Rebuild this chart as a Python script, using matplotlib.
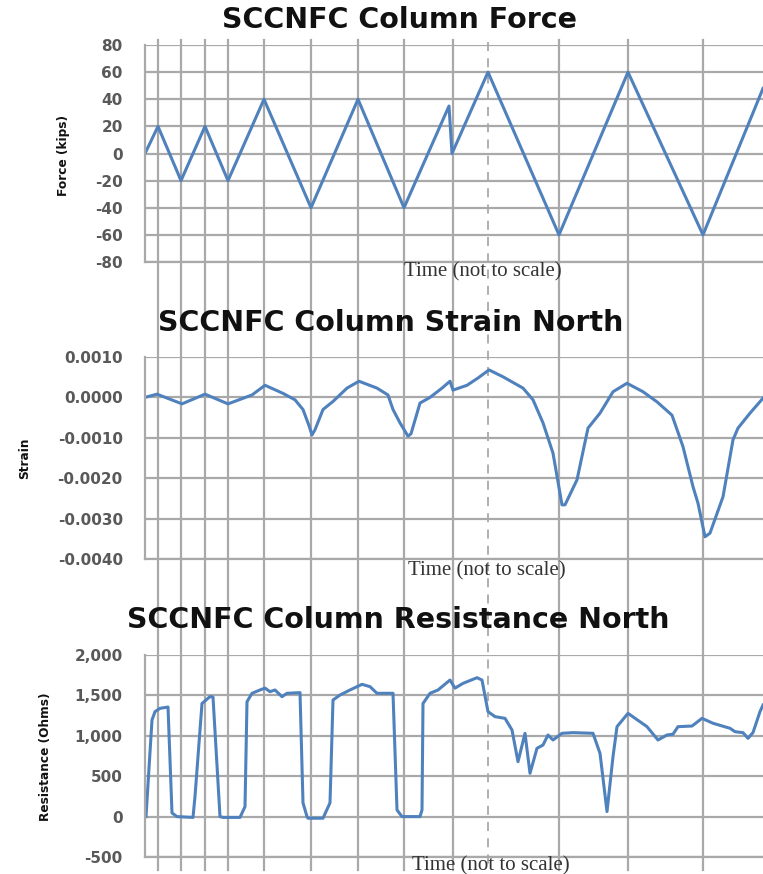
import numpy as np
import matplotlib.pyplot as plt
import matplotlib.transforms as mtransforms
from matplotlib.lines import Line2D
from matplotlib.ticker import FuncFormatter


# ══════════════════════════════════════════════
# DATA  (time axis is in arbitrary units, not to scale)
# ══════════════════════════════════════════════

T_END = 618

force_t = [0, 13, 36, 60, 83, 119, 166, 213, 259, 304, 307, 343, 414, 483, 558, 618]
force_v = [0, 20, -20, 20, -20, 40, -40, 40, -40, 35, 0, 60, -60, 60, -60, 48]

strain_t = [0, 12, 37, 60, 83, 107, 120, 138, 150, 158, 164, 167, 170, 178, 188,
            202, 214, 232, 243, 248, 255, 263, 266, 275, 285, 297, 305, 308, 322,
            333, 344, 358, 378, 388, 398, 408, 417, 420, 432, 443, 455, 468, 482,
            498, 512, 527, 538, 548, 553, 560, 565, 578, 588, 593, 605, 618]
strain_v = [0.0, 0.00008, -0.00016, 0.00008, -0.00016, 0.00006, 0.0003, 0.0001,
            -0.00006, -0.0003, -0.0007, -0.00093, -0.0008, -0.0003, -0.0001,
            0.00023, 0.0004, 0.00023, 0.00006, -0.0003, -0.00063, -0.00096,
            -0.0009, -0.00014, 0.0, 0.00023, 0.0004, 0.00018, 0.0003, 0.00048,
            0.00068, 0.00051, 0.00023, -0.00006, -0.00063, -0.00138, -0.00266,
            -0.00266, -0.00204, -0.00076, -0.00039, 0.00014, 0.00035, 0.00014,
            -0.00011, -0.00044, -0.00122, -0.00221, -0.00262, -0.00345, -0.00336,
            -0.00246, -0.00105, -0.00076, -0.00039, -0.00002]

resist_t = [1, 7, 10, 15, 23, 27, 32, 48, 50, 55, 57, 65, 68, 75, 78, 95, 100,
            102, 107, 115, 120, 125, 130, 137, 142, 155, 158, 162, 163, 178, 185,
            188, 195, 205, 217, 225, 232, 248, 252, 257, 275, 277, 278, 285, 293,
            305, 310, 318, 332, 337, 343, 350, 360, 367, 373, 380, 385, 392, 398,
            403, 408, 417, 428, 448, 455, 462, 468, 472, 483, 502, 513, 522, 528,
            533, 547, 557, 568, 585, 590, 598, 603, 608, 615, 618]
resist_v = [0, 1196, 1299, 1340, 1356, 45, 0, -10, 250, 1072, 1400, 1485, 1480,
            0, -10, -10, 123, 1422, 1526, 1567, 1590, 1546, 1567, 1484, 1526,
            1534, 170, 0, -20, -20, 170, 1443, 1505, 1567, 1637, 1608, 1526, 1526,
            82, 0, 0, 82, 1400, 1526, 1567, 1690, 1590, 1649, 1719, 1690, 1299,
            1237, 1216, 1072, 680, 1031, 536, 845, 886, 1010, 948, 1031, 1039,
            1031, 783, 62, 741, 1113, 1278, 1113, 948, 1010, 1020, 1113, 1121,
            1216, 1155, 1093, 1051, 1039, 969, 1040, 1299, 1381]

# load reversal points marked across all three panels
event_times = [13, 36, 60, 83, 119, 166, 213, 259, 308, 414, 483, 558]
dashed_time = 343


# ══════════════════════════════════════════════
# STYLE
# ══════════════════════════════════════════════

W, H = 763, 874
BLUE = '#4f81bd'
GRID = '#a9a9a9'
TICK = '#595959'

plt.rcParams['axes.unicode_minus'] = False


def px_box(left, top, right, bottom):
    return [left / W, 1 - bottom / H, (right - left) / W, (bottom - top) / H]


def fx(x):
    return x / W


def fy(y):
    return 1 - y / H


def make_panel(fig, box, t, v, ylim, step, fmt):
    ax = fig.add_axes(box)
    ax.set_facecolor('none')
    ax.set_axisbelow(True)
    ax.plot(t, v, color=BLUE, linewidth=2.2, solid_joinstyle='round')
    ax.set_xlim(0, T_END)
    ax.set_ylim(*ylim)
    ax.set_yticks(np.arange(ylim[0], ylim[1] + step / 2, step))
    ax.yaxis.set_major_formatter(FuncFormatter(fmt))
    ax.set_xticks([])
    ax.grid(axis='y', color=GRID, linewidth=1.6)
    ax.tick_params(axis='y', length=0, pad=16, labelsize=11, labelcolor=TICK)
    for lab in ax.get_yticklabels():
        lab.set_fontweight('bold')
    for side in ['top', 'right']:
        ax.spines[side].set_visible(False)
    for side in ['left', 'bottom']:
        ax.spines[side].set_color(GRID)
        ax.spines[side].set_linewidth(1.6)
    return ax


# ══════════════════════════════════════════════
# FIGURE
# ══════════════════════════════════════════════

fig = plt.figure(figsize=(W / 100, H / 100), dpi=100)

ax_force = make_panel(fig, px_box(145, 45, 763, 262), force_t, force_v,
                      (-80, 80), 20, lambda v, _: f'{v:.0f}')
ax_strain = make_panel(fig, px_box(145, 357, 763, 559), strain_t, strain_v,
                       (-0.004, 0.001), 0.001, lambda v, _: f'{v:.4f}')
ax_resist = make_panel(fig, px_box(145, 655, 763, 857), resist_t, resist_v,
                       (-500, 2000), 500, lambda v, _: f'{v:,.0f}')

# ── Event lines spanning every panel ─────────
trans = mtransforms.blended_transform_factory(ax_force.transData, fig.transFigure)
for t in event_times:
    fig.add_artist(Line2D([t, t], [fy(40), fy(870)], transform=trans,
                          color=GRID, linewidth=1.6, zorder=-1))
fig.add_artist(Line2D([dashed_time, dashed_time], [fy(42), fy(870)], transform=trans,
                      color=GRID, linewidth=1.3, linestyle=(0, (5, 4)), zorder=-1))

# ── Titles ───────────────────────────────────
title_kw = dict(ha='center', va='center', fontsize=20.5, fontweight='bold', color='#111111')
fig.text(fx(399), fy(20), 'SCCNFC Column Force', **title_kw)
fig.text(fx(391), fy(323), 'SCCNFC Column Strain North', **title_kw)
fig.text(fx(398), fy(620), 'SCCNFC Column Resistance North', **title_kw)

# ── Axis labels ──────────────────────────────
ylab_kw = dict(ha='center', va='center', rotation=90, fontsize=9.7, fontweight='bold',
               fontstretch='condensed', family='DejaVu Sans', color='#111111')
fig.text(fx(63), fy(155), 'Force (kips)', **ylab_kw)
fig.text(fx(25), fy(458), 'Strain', **ylab_kw)
fig.text(fx(45), fy(757), 'Resistance (Ohms)', **ylab_kw)

xlab_kw = dict(ha='center', va='center', fontsize=15, family='Liberation Serif',
               color='#333333')
fig.text(fx(483), fy(272), 'Time (not to scale)', **xlab_kw)
fig.text(fx(487), fy(571), 'Time (not to scale)', **xlab_kw)
fig.text(fx(491), fy(866), 'Time (not to scale)', **xlab_kw)

fig.savefig('out.png', dpi=100)
